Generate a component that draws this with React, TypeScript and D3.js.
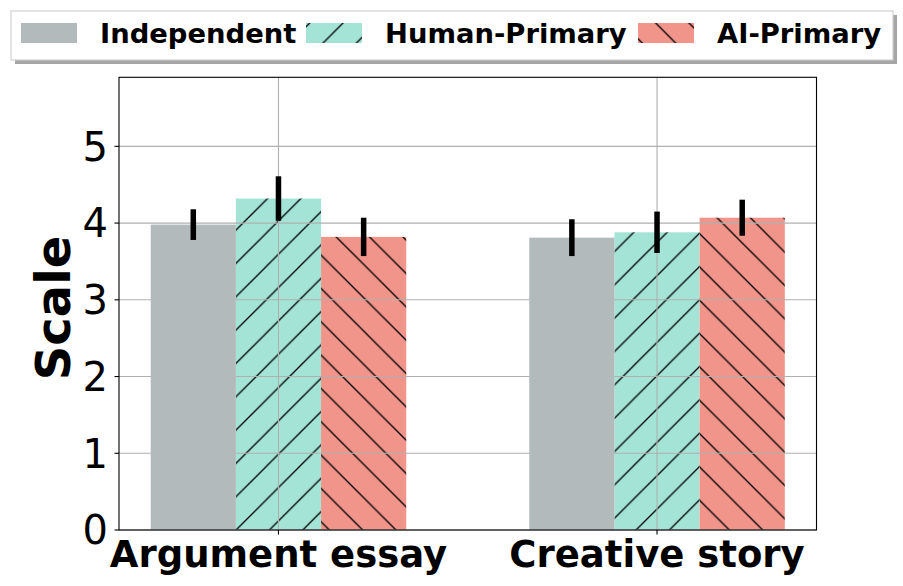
import * as d3 from "d3";

const categories = ["Argument essay", "Creative story"];
const seriesNames = ["Independent", "Human-Primary", "AI-Primary"];
const independent = [3.98, 3.81];
const independentErr = [0.2, 0.24];
const humanPrimary = [4.32, 3.88];
const humanPrimaryErr = [0.29, 0.27];
const aiPrimary = [3.82, 4.07];
const aiPrimaryErr = [0.25, 0.235];
const yTickValues = [0, 1, 2, 3, 4, 5];

const W = 903;
const H = 586;
const margin = { top: 77.3, right: 86.5, bottom: 56, left: 119 };
const barWidth = 0.225;
const P = 100 / 3; // hatch spacing

const series = [
  { name: seriesNames[0], values: independent, err: independentErr, color: "#B2BABB", fill: "#B2BABB" },
  { name: seriesNames[1], values: humanPrimary, err: humanPrimaryErr, color: "#A3E4D7", fill: "url(#hatchFwd)" },
  { name: seriesNames[2], values: aiPrimary, err: aiPrimaryErr, color: "#F1948A", fill: "url(#hatchBack)" },
];

export default function App() {
  const x0 = -1.5 * barWidth;
  const x1 = categories.length - 1 + 1.5 * barWidth;
  const pad = (x1 - x0) * 0.05;
  const x = d3.scaleLinear().domain([x0 - pad, x1 + pad]).range([margin.left, W - margin.right]);
  const y = d3.scaleLinear().domain([0, 5.9]).range([530, margin.top]);

  const bars = series.flatMap((s, si) =>
    s.values.map((v, ci) => ({
      si,
      ci,
      v,
      e: s.err[ci],
      cx: ci + (si - 1) * barWidth,
      ...s,
    }))
  );

  const barRect = (b: (typeof bars)[number]) => {
    const left = x(b.cx - barWidth / 2);
    const right = x(b.cx + barWidth / 2);
    return { x: left, y: y(b.v), width: right - left, height: y(0) - y(b.v) };
  };

  const hatched = bars.filter((b) => b.si > 0);
  const plain = bars.filter((b) => b.si === 0);

  const legendItems = [
    { px: 21, tx: 100 },
    { px: 306, tx: 385 },
    { px: 638, tx: 717 },
  ];

  return (
    <svg
      width={W}
      height={H}
      style={{ position: "absolute", left: 0, top: 0, fontFamily: "DejaVu Sans" }}
    >
      <defs>
        <pattern id="hatchFwd" patternUnits="userSpaceOnUse" width={P} height={P} x={0} y={-0.6}>
          <rect width={P} height={P} fill="#A3E4D7" />
          <path
            d={`M0,${P} L${P},0 M-2,2 L2,-2 M${P - 2},${P + 2} L${P + 2},${P - 2}`}
            stroke="#000"
            strokeWidth={1.3}
          />
        </pattern>
        <pattern id="hatchBack" patternUnits="userSpaceOnUse" width={P} height={P} x={0} y={0.7}>
          <rect width={P} height={P} fill="#F1948A" />
          <path
            d={`M0,0 L${P},${P} M-2,${P - 2} L2,${P + 2} M${P - 2},-2 L${P + 2},2`}
            stroke="#000"
            strokeWidth={1.3}
          />
        </pattern>
      </defs>

      {/* hatched bars */}
      {hatched.map((b) => (
        <rect key={`h${b.si}-${b.ci}`} {...barRect(b)} fill={b.fill} />
      ))}

      {/* grid */}
      {yTickValues.map((t) => (
        <line key={`gy${t}`} x1={margin.left} x2={W - margin.right} y1={y(t)} y2={y(t)} stroke="#b0b0b0" strokeWidth={1.1} />
      ))}
      {categories.map((c, i) => (
        <line key={`gx${c}`} x1={x(i)} x2={x(i)} y1={margin.top} y2={y(0)} stroke="#b0b0b0" strokeWidth={1.1} />
      ))}

      {/* plain bars */}
      {plain.map((b) => (
        <rect key={`p${b.si}-${b.ci}`} {...barRect(b)} fill={b.fill} />
      ))}

      {/* error bars */}
      {bars.map((b) => (
        <line
          key={`e${b.si}-${b.ci}`}
          x1={x(b.cx)}
          x2={x(b.cx)}
          y1={y(b.v + b.e)}
          y2={y(b.v - b.e)}
          stroke="#000"
          strokeWidth={5.5}
        />
      ))}

      {/* frame */}
      <rect
        x={margin.left}
        y={margin.top}
        width={W - margin.right - margin.left}
        height={y(0) - margin.top}
        fill="none"
        stroke="#000"
        strokeWidth={1.1}
      />

      {/* y axis */}
      {yTickValues.map((t) => (
        <g key={`yt${t}`}>
          <line x1={margin.left - 4.5} x2={margin.left} y1={y(t)} y2={y(t)} stroke="#000" strokeWidth={1.1} />
          <text x={margin.left - 11} y={y(t)} dy="0.36em" textAnchor="end" fontSize={40}>
            {t}
          </text>
        </g>
      ))}
      <text
        transform={`translate(70,${308}) rotate(-90)`}
        textAnchor="middle"
        fontSize={48}
        fontWeight="bold"
      >
        Scale
      </text>

      {/* x axis */}
      {categories.map((c, i) => (
        <g key={`xt${c}`}>
          <line x1={x(i)} x2={x(i)} y1={y(0)} y2={y(0) + 4.5} stroke="#000" strokeWidth={1.1} />
          <text x={x(i)} y={567} textAnchor="middle" fontSize={37} fontWeight="bold">
            {c}
          </text>
        </g>
      ))}

      {/* legend */}
      <rect x={15} y={15} width={882} height={49} fill="#a6a6a6" />
      <rect x={11} y={11} width={882} height={49} fill="#fff" stroke="#cccccc" strokeWidth={1.1} />
      {series.map((s, i) => (
        <g key={`lg${s.name}`}>
          <rect x={legendItems[i].px} y={23} width={56} height={20} fill={s.fill} />
          <text x={legendItems[i].tx} y={43} fontSize={27.4} fontWeight="bold">
            {s.name}
          </text>
        </g>
      ))}
    </svg>
  );
}
